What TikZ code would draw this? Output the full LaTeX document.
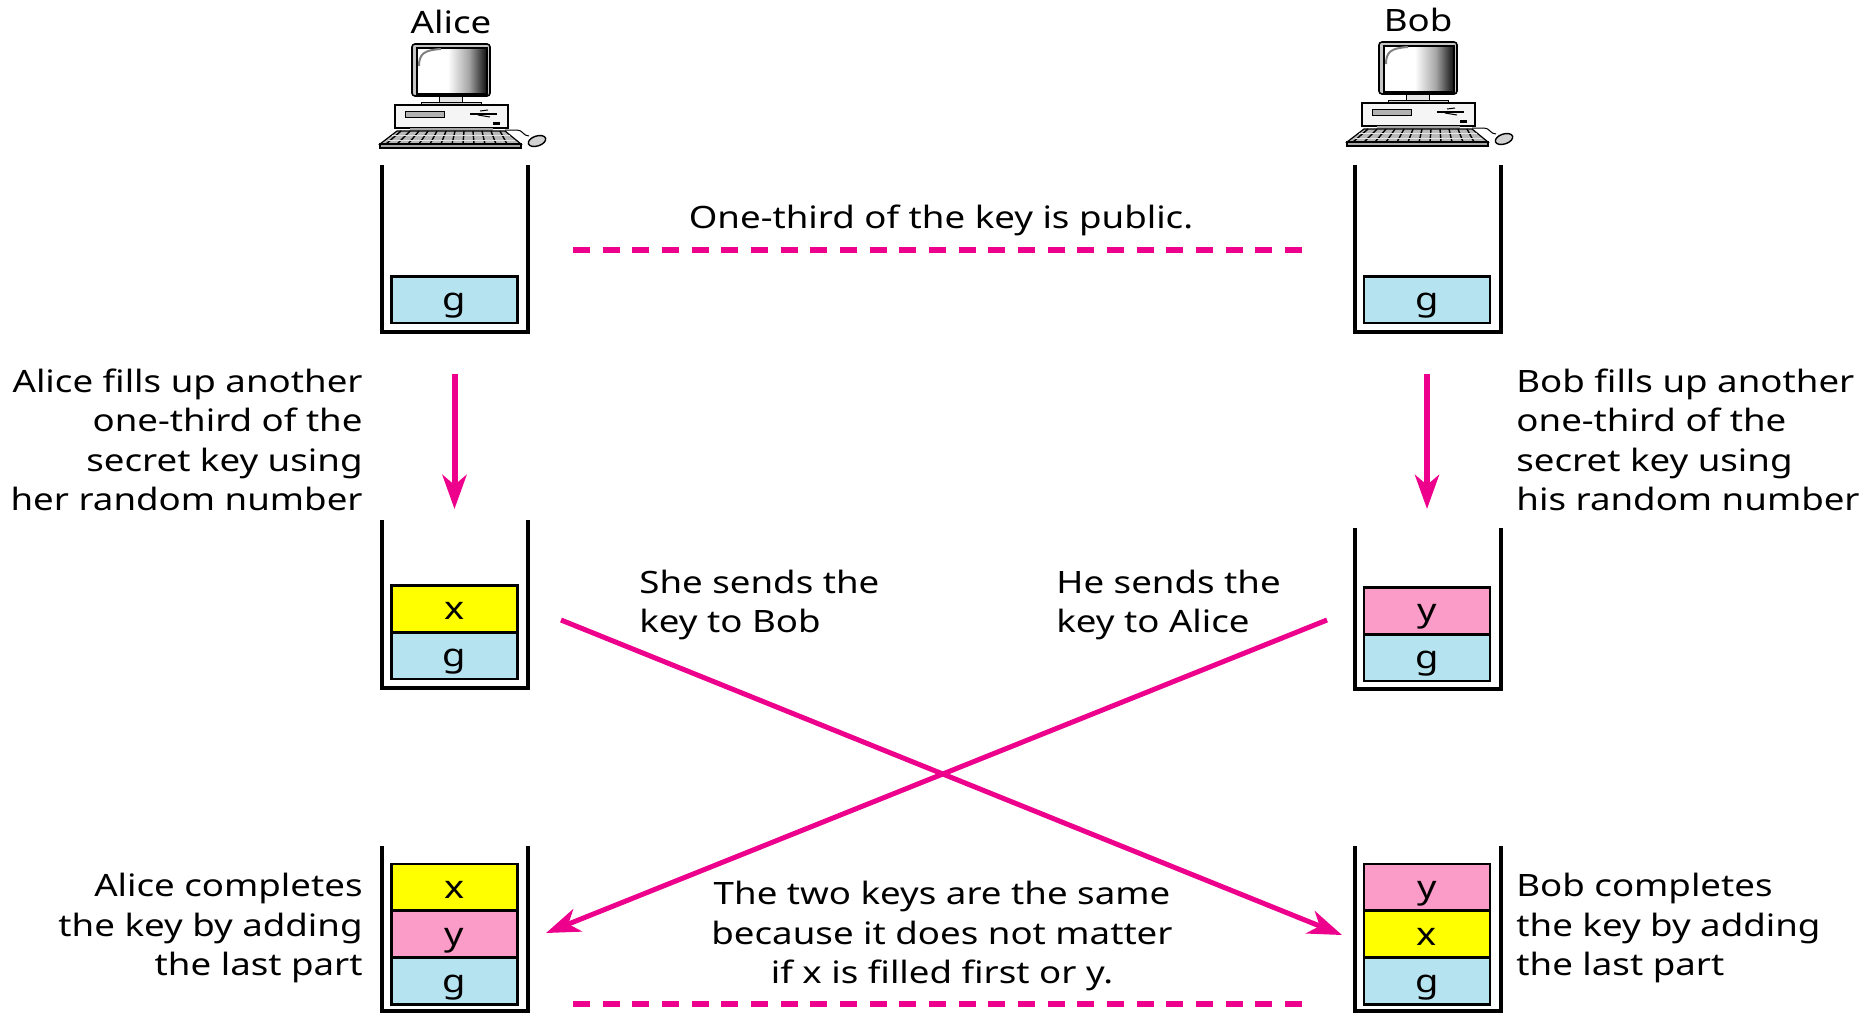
\documentclass[tikz,border=0pt]{standalone}
\usepackage{fontspec}
\setmainfont[FakeStretch=1.19]{Noto Sans}
\usetikzlibrary{positioning, arrows.meta}
\definecolor{keypink}{RGB}{236,0,140}
\definecolor{keyblue}{RGB}{181,227,240}
\definecolor{keyyellow}{RGB}{255,255,0}
\definecolor{keyrose}{RGB}{250,155,200}
\pgfdeclarehorizontalshading{screenshade}{100bp}{color(0bp)=(white); color(25bp)=(white); color(47bp)=(white); color(62bp)=(gray!70); color(74bp)=(black!90); color(100bp)=(black!90)}
\tikzset{
    keybox/.style={draw, line width=1.4pt, inner sep=0pt, outer sep=0pt, minimum width=63pt,
        minimum height=23.4pt, text height=11pt, text depth=0pt, font=\fontsize{16}{18}\selectfont},
    bucket/.style={draw, line width=2.2pt, line join=miter},
    label/.style={inner sep=0pt, font=\fontsize{15.4}{19.7}\selectfont},
    sendline/.style={draw=keypink, line width=2.5pt, -{Stealth[length=17pt, width=12pt, inset=5pt]}},
    dropline/.style={sendline, line width=3pt},
    dashline/.style={draw=keypink, line width=3pt, dash pattern=on 8.5pt off 6.33pt},
    computer/.pic={
        % monitor
        \draw[fill=gray!45, line width=.8pt, rounded corners=1.5pt] (412,44) rectangle (490,96);
        \shade[shading=screenshade, draw=black, line width=.7pt] (417,48) rectangle (487,94);
        \draw[gray, line width=1pt] (419,66) .. controls (419,54) and (424,50) .. (441,49);
        \draw[fill=gray!20, line width=.5pt] (439,96) rectangle (462,102);
        \draw[fill=gray!35, line width=.5pt] (421,102) rectangle (481,105);
        % case
        \draw[fill=gray!8, line width=.7pt] (395,105) rectangle (508,128);
        \draw[fill=gray!60, line width=.5pt] (405,111) rectangle (444,117);
        \draw[line width=1pt] (470,113.5) -- (497,113.5);
        \draw[line width=.5pt] (478,115) -- (490,117) (480,111) -- (488,110);
        \fill (493,122) rectangle (500,125);
        \fill[gray!70] (410,128) rectangle (493,131);
        % keyboard
        \draw[fill=gray!55, line width=.6pt] (397,131) -- (505,131) -- (521,144) -- (380,144) -- cycle;
        \draw[fill=gray!70, line width=.6pt] (380,144) rectangle (521,148);
        \foreach \kx in {0,...,11}
            \draw[line width=.7pt] (401+\kx*9,131) -- (386+\kx*11,144);
        \draw[gray!20, line width=.5pt] (392,135.5) -- (510,135.5) (388,140) -- (515,140);
        % mouse
        \draw[line width=.5pt] (505,130) -- (517,130) .. controls (523,130) and (523,136) .. (529,136);
        \draw[fill=gray!35, line width=.7pt, rotate around={18:(537,141)}] (537,141) ellipse [x radius=9, y radius=5];
    }
}

\begin{document}
\begin{tikzpicture}[x=.5pt,y=-.5pt]
    \useasboundingbox (0,0) rectangle (1872,1013);

    \node (alice) at (451,22) [label] {Alice};
    \node (bob) at (1418,20) [label] {Bob};
    \pic (alicepc) at (0,0) {computer};
    \pic (bobpc) at (967,-2) {computer};

    % buckets
    \foreach \bx/\btop/\bbot in {382/165/332, 1355/165/332, 382/520/688, 1355/528/689, 382/846/1011, 1355/846/1011}
        \draw[bucket] (\bx,\btop) -- (\bx,\bbot) -- (\bx+146,\bbot) -- (\bx+146,\btop);

    \node[keybox, fill=keyblue] (g1) at (454.5,299.5) {g};
    \node[keybox, fill=keyblue] (g2) at (1427,299.5) {g};

    \node[keybox, fill=keyblue] (g3) at (454.5,655.5) {g};
    \node[keybox, fill=keyyellow, above=0pt of g3] (x3) {x};
    \node[keybox, fill=keyblue] (g4) at (1427,657.5) {g};
    \node[keybox, fill=keyrose, above=0pt of g4] (y4) {y};

    \node[keybox, fill=keyblue] (g5) at (454.5,981) {g};
    \node[keybox, fill=keyrose, above=0pt of g5] (y5) {y};
    \node[keybox, fill=keyyellow, above=0pt of y5] (x5) {x};
    \node[keybox, fill=keyblue] (g6) at (1427,981) {g};
    \node[keybox, fill=keyyellow, above=0pt of g6] (x6) {x};
    \node[keybox, fill=keyrose, above=0pt of x6] (y6) {y};

    % texts
    \node[label] (pub) at (941,220) {One-third of the key is public.};
    \node[label, anchor=east, align=right] (afill) at (363,440) {Alice fills up another\\one-third of the\\secret key using\\her random number};
    \node[label, anchor=west, align=left] (bfill) at (1516,440) {Bob fills up another\\one-third of the\\secret key using\\his random number};
    \node[label, anchor=west, align=left] (asend) at (639,605) {She sends the\\key to Bob};
    \node[label, anchor=west, align=left] (bsend) at (1056,605) {He sends the\\key to Alice};
    \node[label, anchor=east, align=right] (adone) at (363,928) {Alice completes\\the key by adding\\the last part};
    \node[label, anchor=west, align=left] (bdone) at (1516,928) {Bob completes\\the key by adding\\the last part};
    \node[label, align=center] (same) at (942,936) {The two keys are the same\\because it does not matter\\if x is filled first or y.};

    % connectors
    \coordinate (afrom) at (454.5,374);
    \coordinate (ato) at (454.5,509);
    \coordinate (bfrom) at (1427,374);
    \coordinate (bto) at (1427,509);
    \coordinate (xfrom) at (561,620);
    \coordinate (xto) at (1342,935);
    \coordinate (yfrom) at (1327,620);
    \coordinate (yto) at (546,933);
    \coordinate (publ) at (573,250);
    \coordinate (pubr) at (1302,250);
    \coordinate (samel) at (573,1004);
    \coordinate (samer) at (1302,1004);
    \draw[dropline] (afrom) -- (ato);
    \draw[dropline] (bfrom) -- (bto);
    \draw[sendline] (xfrom) -- (xto);
    \draw[sendline] (yfrom) -- (yto);
    \draw[dashline] (publ) -- (pubr);
    \draw[dashline] (samel) -- (samer);
\end{tikzpicture}
\end{document}
